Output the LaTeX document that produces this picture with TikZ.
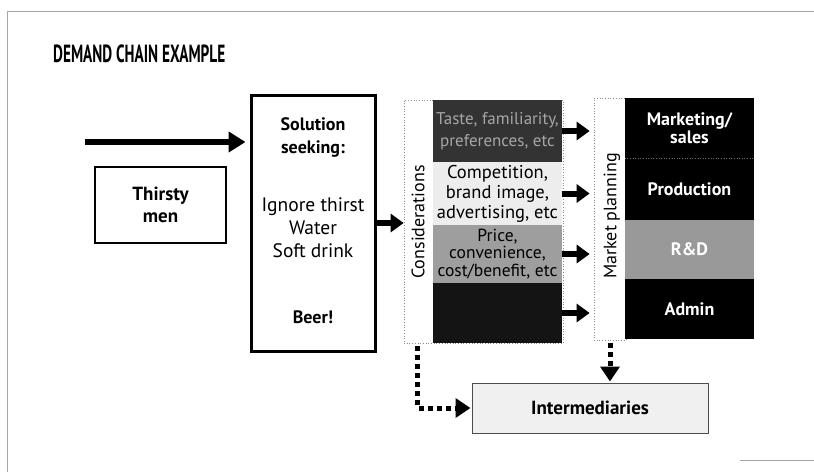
\documentclass[tikz,border=0pt]{standalone}
\usepackage{fontspec}
\setmainfont{PT Sans}
\usetikzlibrary{arrows.meta,calc}
\begin{document}
\begin{tikzpicture}[x=1pt,y=-1pt,
  txt/.style={font=\fontsize{19.5}{21}\selectfont, inner sep=0pt, align=center},
  btxt/.style={font=\fontsize{18}{21}\selectfont\bfseries, inner sep=0pt, align=center},
  bigarrow/.style={line width=6pt, -{Triangle[length=17pt,width=20pt]}},
  midarrow/.style={line width=6pt, -{Triangle[length=13pt,width=18pt]}},
  dotarrow/.style={line width=5pt, dash pattern=on 5pt off 4pt, -{Triangle[length=15pt,width=19pt]}},
  dotbox/.style={draw=black!45, line width=0.7pt, dotted},
  stack/.style={minimum width=129pt, inner sep=0pt, align=center},
  dept/.style={minimum width=129pt, inner sep=0pt, align=center, text=white,
    font=\fontsize{18}{18}\selectfont\bfseries},
  ]
\useasboundingbox (0,0) rectangle (814,472);
\fill[white] (0,0) rectangle (814,472);
\draw[black!35, line width=0.8pt] (814,11) -- (7,11) -- (7,472);
\draw[black!35, line width=0.8pt] (740,460) -- (814,460);

\node[anchor=base west, inner sep=0pt] (title) at (53,62)
  {\resizebox{172pt}{17.7pt}{\bfseries DEMAND CHAIN EXAMPLE}};

% Thirsty men
\node[draw, line width=1.5pt, minimum width=131pt, minimum height=76pt, inner sep=0pt,
  btxt, font=\fontsize{19}{22}\selectfont\bfseries] (thirsty) at (160.5,205) {Thirsty\\men};

% Solution seeking box
\node[draw, line width=3pt, minimum width=124pt, minimum height=256pt, inner sep=0pt] (sol) at (313,223) {};
\node[btxt, anchor=base] (solA) at (313,130) {Solution};
\node[btxt, anchor=base] (solB) at (313,153) {seeking:};
\node[txt, anchor=base] (ign) at (313,211) {Ignore thirst};
\node[txt, anchor=base] (water) at (313,234) {Water};
\node[txt, anchor=base] (soft) at (313,257) {Soft drink};
\node[btxt, anchor=base] (beer) at (313,323) {Beer!};

\coordinate (inflow) at (85,142);
\draw[bigarrow, shorten >=4pt] (inflow) -- (inflow -| sol.west);

% Considerations
\node[dotbox, minimum width=159pt, minimum height=243pt, inner sep=0pt] (cons) at (483.5,221.5) {};
\node[txt, font=\fontsize{18}{21}\selectfont, rotate=90] (conslbl) at (418,222) {Considerations};
\node[stack, fill=black!80, minimum height=62pt, text=black!35,
  font=\fontsize{17}{22}\selectfont] (b1) at (497.5,131) {Taste, familiarity,\\preferences, etc};
\node[stack, fill=black!7, minimum height=63pt,
  font=\fontsize{18.5}{20}\selectfont] (b2) at (497.5,193.5) {Competition,\\brand image,\\advertising, etc};
\node[stack, fill=black!38, minimum height=58pt,
  font=\fontsize{17.5}{17.5}\selectfont] (b3) at (497.5,254) {Price,\\convenience,\\cost/benefit, etc};
\node[stack, fill=black!92, minimum height=60pt] (b4) at (497.5,313) {};

\draw[midarrow, shorten <=-1pt] (sol.east) -- (sol.east -| cons.west);

% Market planning
\node[dotbox, minimum width=32pt, minimum height=242pt, inner sep=0pt] (mp) at (610,219) {};
\node[txt, font=\fontsize{18}{21}\selectfont, rotate=90] (mplbl) at (612,216) {Market planning};

\foreach \b in {b1,b2,b3,b4}
  \draw[midarrow, shorten >=4pt] (\b.east) -- (\b.east -| mp.west);

% Departments
\node[dept, fill=black, minimum height=60pt] (mk) at (689.5,128) {Marketing/\\sales};
\node[dept, fill=black, minimum height=62pt] (pr) at (689.5,189) {Production};
\node[dept, fill=black!40, minimum height=59pt] (rd) at (689.5,249.5) {R\&D};
\node[dept, fill=black, minimum height=60pt] (ad) at (689.5,309) {Admin};
\draw[black!55, dotted, line width=0.6pt] (mk.south west) -- (mk.south east);

% Intermediaries
\node[draw=black!70, line width=1pt, fill=black!6, minimum width=236pt, minimum height=50pt,
  btxt, font=\fontsize{19}{21}\selectfont\bfseries] (im) at (590,408) {Intermediaries};

\draw[dotarrow, shorten <=3pt, shorten >=1pt] (mp.south) -- (mp.south |- im.north);
\coordinate (consout) at ($(cons.south west)+(14,3)$);
\draw[dotarrow, shorten >=1pt] (consout) |- (im.west);
\end{tikzpicture}
\end{document}
